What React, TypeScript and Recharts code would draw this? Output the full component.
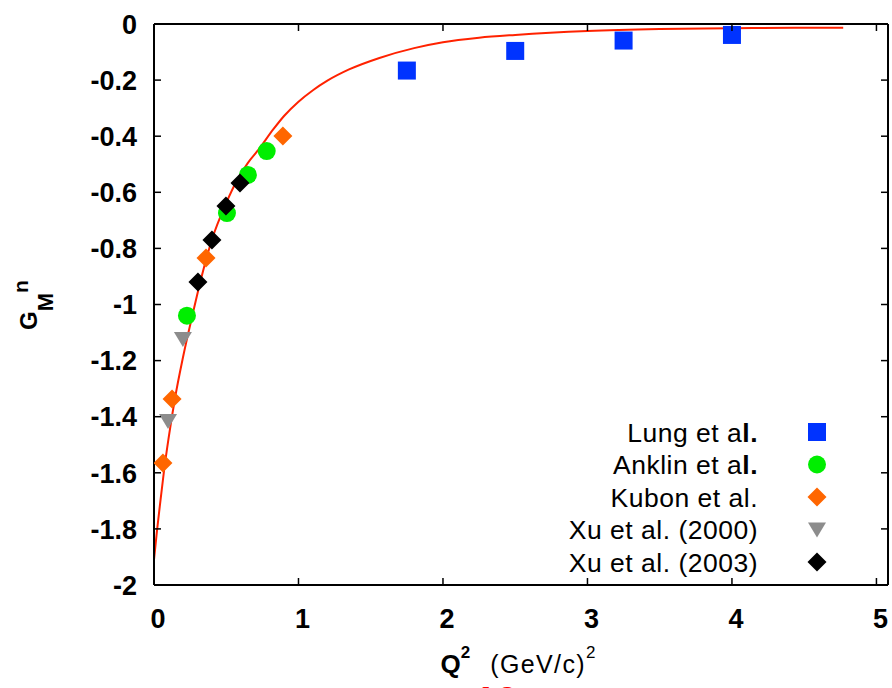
import React from 'react';
import { ComposedChart, XAxis, YAxis, Line, Scatter, Customized } from 'recharts';

// ---- data: neutron magnetic form factor G_M^n vs Q^2 ----
const lungQ2 = [1.75, 2.5, 3.25, 4.0];
const lungGM = [-0.166, -0.096, -0.059, -0.039];

const anklinQ2 = [0.228, 0.505, 0.65, 0.78];
const anklinGM = [-1.04, -0.674, -0.538, -0.453];

const kubonQ2 = [0.062, 0.125, 0.36, 0.892];
const kubonGM = [-1.565, -1.337, -0.834, -0.399];

const xu2000Q2 = [0.097, 0.2];
const xu2000GM = [-1.415, -1.123];

const xu2003Q2 = [0.304, 0.401, 0.498, 0.595];
const xu2003GM = [-0.92, -0.77, -0.649, -0.567];

// model curve, sampled
const curveQ2 = [0, 0.02, 0.04, 0.07, 0.1, 0.145, 0.2, 0.272, 0.313, 0.4, 0.5, 0.572, 0.65, 0.722, 0.825, 0.9, 1.0, 1.1, 1.2, 1.35, 1.56, 1.8, 2.0, 2.25, 2.5, 3.0, 3.5, 4.0, 4.5, 4.77];
const curveGM = [-1.91, -1.81, -1.72, -1.59, -1.48, -1.335, -1.19, -1.025, -0.935, -0.77, -0.638, -0.56, -0.495, -0.449, -0.376, -0.328, -0.277, -0.236, -0.202, -0.162, -0.121, -0.086, -0.065, -0.049, -0.039, -0.025, -0.018, -0.015, -0.013, -0.013];

const xTicks = [0, 1, 2, 3, 4, 5];
const yTicks = [0, -0.2, -0.4, -0.6, -0.8, -1, -1.2, -1.4, -1.6, -1.8, -2];

// ---- layout ----
const CHART_W = 892;
const CHART_H = 688;
const LEFT_AXIS_W = 154;
const RIGHT_AXIS_W = 4;
const TOP_AXIS_H = 24;
const BOTTOM_AXIS_H = 103;
const PLOT_LEFT = LEFT_AXIS_W;
const PLOT_RIGHT = CHART_W - RIGHT_AXIS_W;
const PLOT_BOTTOM = CHART_H - BOTTOM_AXIS_H;

const FONT = "'Liberation Sans', Arial, Helvetica, sans-serif";
const TICK_LEN = 7;

type Pt = { x: number; y: number };
const zip = (xs: number[], ys: number[]): Pt[] => xs.map((x, i) => ({ x, y: ys[i] }));

const curve = zip(curveQ2, curveGM);

// ---- marker shapes ----
type ShapeProps = { cx?: number; cy?: number; fill?: string };
const Square = ({ cx = 0, cy = 0, fill }: ShapeProps) => (
  <rect x={cx - 9} y={cy - 9} width={18} height={18} fill={fill} />
);
const Dot = ({ cx = 0, cy = 0, fill }: ShapeProps) => <circle cx={cx} cy={cy} r={9} fill={fill} />;
const Diamond = ({ cx = 0, cy = 0, fill }: ShapeProps) => (
  <polygon points={`${cx},${cy - 9.5} ${cx + 9.5},${cy} ${cx},${cy + 9.5} ${cx - 9.5},${cy}`} fill={fill} />
);
const TriDown = ({ cx = 0, cy = 0, fill }: ShapeProps) => (
  <polygon points={`${cx - 9},${cy - 7} ${cx + 9},${cy - 7} ${cx},${cy + 8}`} fill={fill} />
);

type Series = {
  name: string;
  boldTail: boolean;
  data: Pt[];
  color: string;
  Shape: (p: ShapeProps) => React.ReactElement;
};

const series: Series[] = [
  { name: 'Lung et al.', boldTail: true, data: zip(lungQ2, lungGM), color: '#0033ff', Shape: Square },
  { name: 'Anklin et al.', boldTail: true, data: zip(anklinQ2, anklinGM), color: '#00ee00', Shape: Dot },
  { name: 'Kubon et al.', boldTail: false, data: zip(kubonQ2, kubonGM), color: '#ff6600', Shape: Diamond },
  { name: 'Xu et al. (2000)', boldTail: false, data: zip(xu2000Q2, xu2000GM), color: '#8c8c8c', Shape: TriDown },
  { name: 'Xu et al. (2003)', boldTail: false, data: zip(xu2003Q2, xu2003GM), color: '#000000', Shape: Diamond },
];

const fmtY = (v: number) => (Math.abs(v) < 1e-9 ? '0' : String(Number(v.toFixed(1))));

// ---- ticks (drawn inward, gnuplot style) ----
const LeftTick = (props: any) => {
  const { x, y, payload } = props;
  return (
    <g>
      <line x1={x} y1={y} x2={x + TICK_LEN} y2={y} stroke="#000" strokeWidth={1.5} />
      <text x={x - 17} y={y} dy="0.36em" textAnchor="end" fontFamily={FONT} fontWeight="bold" fontSize={27} fill="#000">
        {fmtY(payload.value)}
      </text>
    </g>
  );
};
const RightTick = (props: any) => {
  const { x, y } = props;
  return <line x1={x - TICK_LEN} y1={y} x2={x} y2={y} stroke="#000" strokeWidth={1.5} />;
};
const BottomTick = (props: any) => {
  const { x, y, payload } = props;
  return (
    <g>
      <line x1={x} y1={y} x2={x} y2={y - TICK_LEN} stroke="#000" strokeWidth={1.5} />
      <text x={x + 4} y={y + 43} textAnchor="middle" fontFamily={FONT} fontWeight="bold" fontSize={27} fill="#000">
        {String(payload.value)}
      </text>
    </g>
  );
};
const TopTick = (props: any) => {
  const { x, y } = props;
  return <line x1={x} y1={y} x2={x} y2={y + TICK_LEN} stroke="#000" strokeWidth={1.5} />;
};

// ---- axis titles ----
const XTitle = () => {
  const cx = (PLOT_LEFT + PLOT_RIGHT) / 2 - 3;
  return (
    <text x={cx} y={PLOT_BOTTOM + 88} textAnchor="middle" fontFamily={FONT} fill="#000">
      <tspan fontWeight="bold" fontSize={26}>Q</tspan>
      <tspan fontWeight="bold" fontSize={17} dy={-15}>2</tspan>
      <tspan fontSize={25} dx={20} dy={15} letterSpacing={1.4}>(GeV/c)</tspan>
      <tspan fontSize={17} dy={-15}>2</tspan>
    </text>
  );
};

// rotated G_M^n: reads bottom-to-top, subscript M, superscript n
const YTitle = ({ baseX = 37, midY = 305 }: { baseX?: number; midY?: number }) => (
  <g transform={`translate(${baseX}, ${midY}) rotate(-90)`}>
    <text x={0} y={0} textAnchor="middle" fontFamily={FONT} fontWeight="bold" fill="#000">
      <tspan fontSize={24}>G</tspan>
      <tspan fontSize={22} dy={16}>M</tspan>
      <tspan fontSize={21} dy={-25}>n</tspan>
    </text>
  </g>
);

// ---- legend inside the plot box ----
const LegendBox = () => {
  const textRight = PLOT_RIGHT - 130;
  const markerX = PLOT_RIGHT - 71;
  const firstRow = PLOT_BOTTOM - 153;
  const step = 32.5;
  return (
    <g>
      {series.map((s, i) => {
        const y = firstRow + i * step;
        const head = s.boldTail ? s.name.slice(0, -2) : s.name;
        const tail = s.boldTail ? s.name.slice(-2) : '';
        return (
          <g key={s.name}>
            <text x={textRight} y={y} dy="0.36em" textAnchor="end" fontFamily={FONT} fontSize={26.5} letterSpacing={0.5} fill="#000">
              {head}
              {tail && <tspan fontWeight="bold">{tail}</tspan>}
            </text>
            <s.Shape cx={markerX} cy={y} fill={s.color} />
          </g>
        );
      })}
    </g>
  );
};

const PageMark = () => (
  <text x={474} y={715} fontFamily={FONT} fontWeight="bold" fontSize={40} fill="#ff0000">
    10
  </text>
);

export default function App() {
  return (
    <div style={{ position: 'absolute', left: 0, top: 0, width: CHART_W, height: CHART_H, background: '#fff' }}>
      <ComposedChart width={CHART_W} height={CHART_H} margin={{ top: 0, right: 0, bottom: 0, left: 0 }}>
        <XAxis
          xAxisId="main"
          dataKey="x"
          type="number"
          domain={[0, 5.08]}
          ticks={xTicks}
          allowDataOverflow
          height={BOTTOM_AXIS_H}
          orientation="bottom"
          axisLine={{ stroke: '#000', strokeWidth: 2 }}
          tickLine={false}
          tickSize={0}
          tickMargin={0}
          tick={<BottomTick />}
          interval={0}
        />
        <XAxis
          xAxisId="top"
          dataKey="x"
          type="number"
          domain={[0, 5.08]}
          ticks={xTicks}
          allowDataOverflow
          height={TOP_AXIS_H}
          orientation="top"
          axisLine={{ stroke: '#000', strokeWidth: 2 }}
          tickLine={false}
          tickSize={0}
          tickMargin={0}
          tick={<TopTick />}
          interval={0}
        />
        <YAxis
          yAxisId="main"
          dataKey="y"
          type="number"
          domain={[-2, 0]}
          ticks={yTicks}
          allowDataOverflow
          width={LEFT_AXIS_W}
          orientation="left"
          axisLine={{ stroke: '#000', strokeWidth: 2 }}
          tickLine={false}
          tickSize={0}
          tickMargin={0}
          tick={<LeftTick />}
          interval={0}
        />
        <YAxis
          yAxisId="right"
          dataKey="y"
          type="number"
          domain={[-2, 0]}
          ticks={yTicks}
          allowDataOverflow
          width={RIGHT_AXIS_W}
          orientation="right"
          axisLine={{ stroke: '#000', strokeWidth: 2 }}
          tickLine={false}
          tickSize={0}
          tickMargin={0}
          tick={<RightTick />}
          interval={0}
        />
        <Line
          xAxisId="main"
          yAxisId="main"
          data={curve}
          dataKey="y"
          type="monotone"
          stroke="#ff2200"
          strokeWidth={2}
          dot={false}
          activeDot={false}
          isAnimationActive={false}
        />
        {series.map((s) => (
          <Scatter
            key={s.name}
            name={s.name}
            xAxisId="main"
            yAxisId="main"
            data={s.data}
            dataKey="y"
            fill={s.color}
            shape={(p: any) => <s.Shape cx={p.cx} cy={p.cy} fill={s.color} />}
            isAnimationActive={false}
          />
        ))}
        <Customized component={<XTitle />} />
        <Customized component={<YTitle />} />
        <Customized component={<LegendBox />} />
        <Customized component={<PageMark />} />
      </ComposedChart>
    </div>
  );
}
